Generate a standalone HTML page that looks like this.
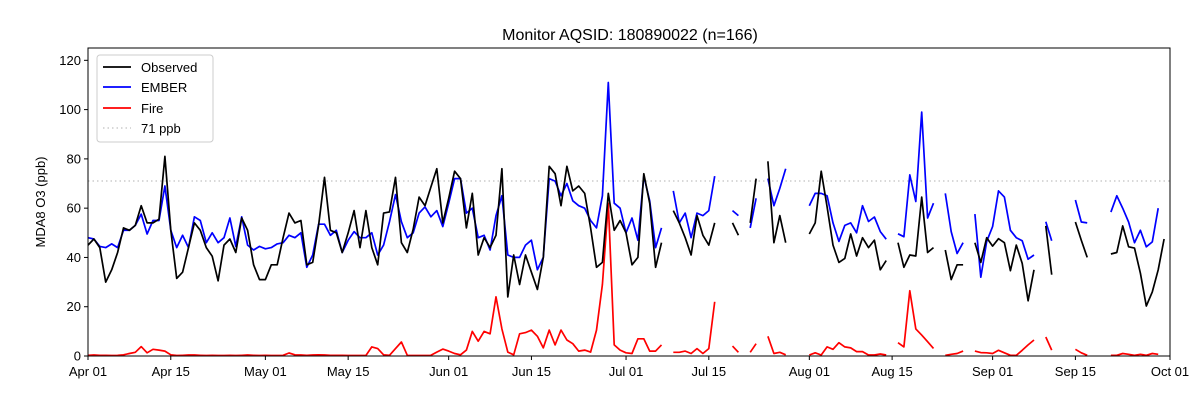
<!DOCTYPE html>
<html><head><meta charset="utf-8">
<style>
html,body{margin:0;padding:0;background:#fff;}
svg{display:block;font-family:"Liberation Sans","DejaVu Sans",sans-serif;}
</style></head>
<body>
<svg id="chart" width="1200" height="400" viewBox="0 0 1200 400" xmlns="http://www.w3.org/2000/svg">
<rect width="1200" height="400" fill="#fff"/>
<text x="630" y="40" text-anchor="middle" font-size="16">Monitor AQSID: 180890022 (n=166)</text>
<text transform="translate(45,202) rotate(-90)" text-anchor="middle" font-size="13">MDA8 O3 (ppb)</text>
<g id="grid"></g>
<g id="series"></g>
<rect x="88" y="48" width="1082" height="308" fill="none" stroke="#000" stroke-width="1"/>
<g id="axes"></g>
<g>
<rect x="97" y="55" width="116" height="87" rx="3" fill="#fff" fill-opacity="0.85" stroke="#ccc"/>
<line x1="103" y1="67" x2="131" y2="67" stroke="#000" stroke-width="1.7"/>
<text x="141" y="72" font-size="13">Observed</text>
<line x1="103" y1="87" x2="131" y2="87" stroke="#00f" stroke-width="1.7"/>
<text x="141" y="92" font-size="13">EMBER</text>
<line x1="103" y1="108" x2="131" y2="108" stroke="#f00" stroke-width="1.7"/>
<text x="141" y="113" font-size="13">Fire</text>
<line x1="103" y1="128" x2="131" y2="128" stroke="#ccc" stroke-width="1.5" stroke-dasharray="1.5,3"/>
<text x="141" y="133" font-size="13">71 ppb</text>
</g>
</svg>
<script>
const N = null;
const xTickLabels = ["Apr 01","Apr 15","May 01","May 15","Jun 01","Jun 15","Jul 01","Jul 15","Aug 01","Aug 15","Sep 01","Sep 15","Oct 01"];
const xTickDays = [0,14,30,44,61,75,91,105,122,136,153,167,183];
const yTicks = [0,20,40,60,80,100,120];
const threshold = 71;
const observed = [45,47.5,44,30,35,42,52,51,53,61,
54,54,55.5,81,51,31.5,34,44,54,51,
44,40.5,30.5,45,47.5,42,56,51,37,31,
31,37,37,48,58,54,55,37,38,53,
72.5,51,50,42,50,59,44,59,44,37,
58,58.5,72.5,46,42,51.5,64.5,61,68.6,76,
54,64,75,72,52,66,41,48,44,49,
76,24,41,29,41,34,27,40,77,74,
61,77,67,69,66,52,36,38,66,51,
55,50,37,40,74,62,36,46,N,59,
54,48,41,57,49,45,54,N,N,54,
49,N,54,72,N,79,46,57,46,N,
N,N,49.5,54,75,60.5,45,38,39.6,49.5,
40.6,48,44,47,35,38.7,N,46,36,41,
40.6,64.5,42,44,N,43,31,37,37,N,
46,38,48,44.6,47.6,46,34.6,45,37.6,22.4,
35,N,52.8,33,N,N,N,54.4,47,40,
N,N,N,41.4,42,52.8,44.3,43.8,33.6,20.3,
26,35,47.5];
const ember = [48,47.5,44.5,44,45.5,44,51,51,53,57.6,
49.5,55,55,69,51,44,49,44,56.5,55,
46,50,46,48,56,44.5,56.5,45,43,44.5,
43.5,44,45.5,46,49,48,50,36,41,53.5,
53.5,49,51,42,47,50.5,48,48,50,41,
45,54.5,65.5,54.5,48,50,58,60.5,56.5,59,
52.5,62,72,72,58,60,48,49,43,57,
65,41,40,40,45,47,35,40,72,71,
65,70,63,61,60,55,52,65,111,62,
60,50,56,47,73,63,44,52,N,67,
54,58,48,58,57,59,73,N,N,59,
57,N,52,64,N,72,61,68,76,N,
N,N,61,66,66,65,54,46.5,53,54,
50,61,54.6,56.4,50.5,47.4,N,49.6,48.4,73.5,
62.7,99,56,62,N,66,50.5,41.6,46,N,
57.6,32,46.5,52.5,67,64.5,51,48,46.8,39.3,
41,N,54.5,46.8,N,N,N,63.3,54.4,54,
N,N,N,58.4,65,60,54.4,46,51,44.3,
46.3,60,N];
const fire = [0.3,0.4,0.3,0.3,0.2,0.3,0.5,1,1.5,3.8,
1.3,2.7,2.4,2,0.5,0.2,0.3,0.4,0.4,0.3,
0.2,0.3,0.2,0.2,0.3,0.2,0.3,0.4,0.3,0.2,
0.3,0.2,0.2,0.3,1.2,0.5,0.4,0.3,0.4,0.5,
0.4,0.3,0.3,0.3,0.2,0.2,0.2,0.2,3.7,3,
0.5,0.3,3,5.7,0.3,0.2,0.2,0.2,0.3,1.6,
2.8,2,1,0.5,2.4,10,6,10,9,24,
11,1.6,0.5,9,9.5,10.5,8,3.3,10.5,4.5,
10.5,6.5,5,2,2.4,1.6,10.5,29,62,4.5,
2.4,1.3,1,7,7,2,2,4.5,N,1.5,
1.5,2,1,3,1,3,22,N,N,4,
1.5,N,1.5,5,N,8,1,1.5,0.5,N,
N,N,0.4,1.3,0.4,3.7,2.7,5.4,3.7,3.3,
1.8,1.8,0.4,0.4,0.8,0.4,N,5.4,3.7,26.5,
11,8.5,5.8,3.1,N,0.3,0.7,1,2,N,
2,1.4,1.3,1,2.3,1.3,0.3,0.3,2.3,4.5,
6.5,N,7.7,2.4,N,N,N,2.7,1.3,0.3,
N,N,N,0.3,0.3,1,0.7,0.3,0.7,0.3,
1,0.7,N];

const X0=88, X1=1170, Y0=356, Y1=48, DAYS=183, YMAX=125;
function xs(d){return X0+(X1-X0)*d/DAYS;}
function ys(v){return Y0-(Y0-Y1)*v/YMAX;}
const NS="http://www.w3.org/2000/svg";
function mk(tag,attrs,parent){const e=document.createElementNS(NS,tag);for(const k in attrs)e.setAttribute(k,attrs[k]);parent.appendChild(e);return e;}

const grid=document.getElementById('grid');
const thr=mk('line',{x1:X0,x2:X1,y1:ys(threshold),y2:ys(threshold),stroke:'#ccc','stroke-width':1.5,'stroke-dasharray':'1.5,3'},grid);



const axes=document.getElementById('axes');
yTicks.forEach(v=>{
  const t=mk('line',{x1:X0-4,x2:X0,y1:ys(v),y2:ys(v),stroke:'#000'},axes);
  
  
  const l=mk('text',{x:X0-7,y:ys(v)+4.5,'text-anchor':'end','font-size':13},axes);
  
  
  l.textContent=v;
});
xTickDays.forEach((d,i)=>{
  const t=mk('line',{x1:xs(d),x2:xs(d),y1:Y0,y2:Y0+4,stroke:'#000'},axes);
  
  
  const l=mk('text',{x:xs(d),y:Y0+20,'text-anchor':'middle','font-size':13},axes);
  
  
  l.textContent=xTickLabels[i];
});

const series=document.getElementById('series');
function draw(arr,color,name){
  const g=mk('g',{},series);
  
  
  let seg=[];
  const flush=()=>{
    if(seg.length>1){
      const p=mk('polyline',{points:seg.join(' '),fill:'none',stroke:color,'stroke-width':1.7,'stroke-linejoin':'round'},g);
      
      
    }
    seg=[];
  };
  arr.forEach((v,d)=>{ if(v===null){flush();} else seg.push(xs(d).toFixed(1)+','+ys(v).toFixed(1)); });
  flush();
}
draw(fire,'#f00','fire');
draw(ember,'#00f','ember');
draw(observed,'#000','observed');
</script>
</body></html>
